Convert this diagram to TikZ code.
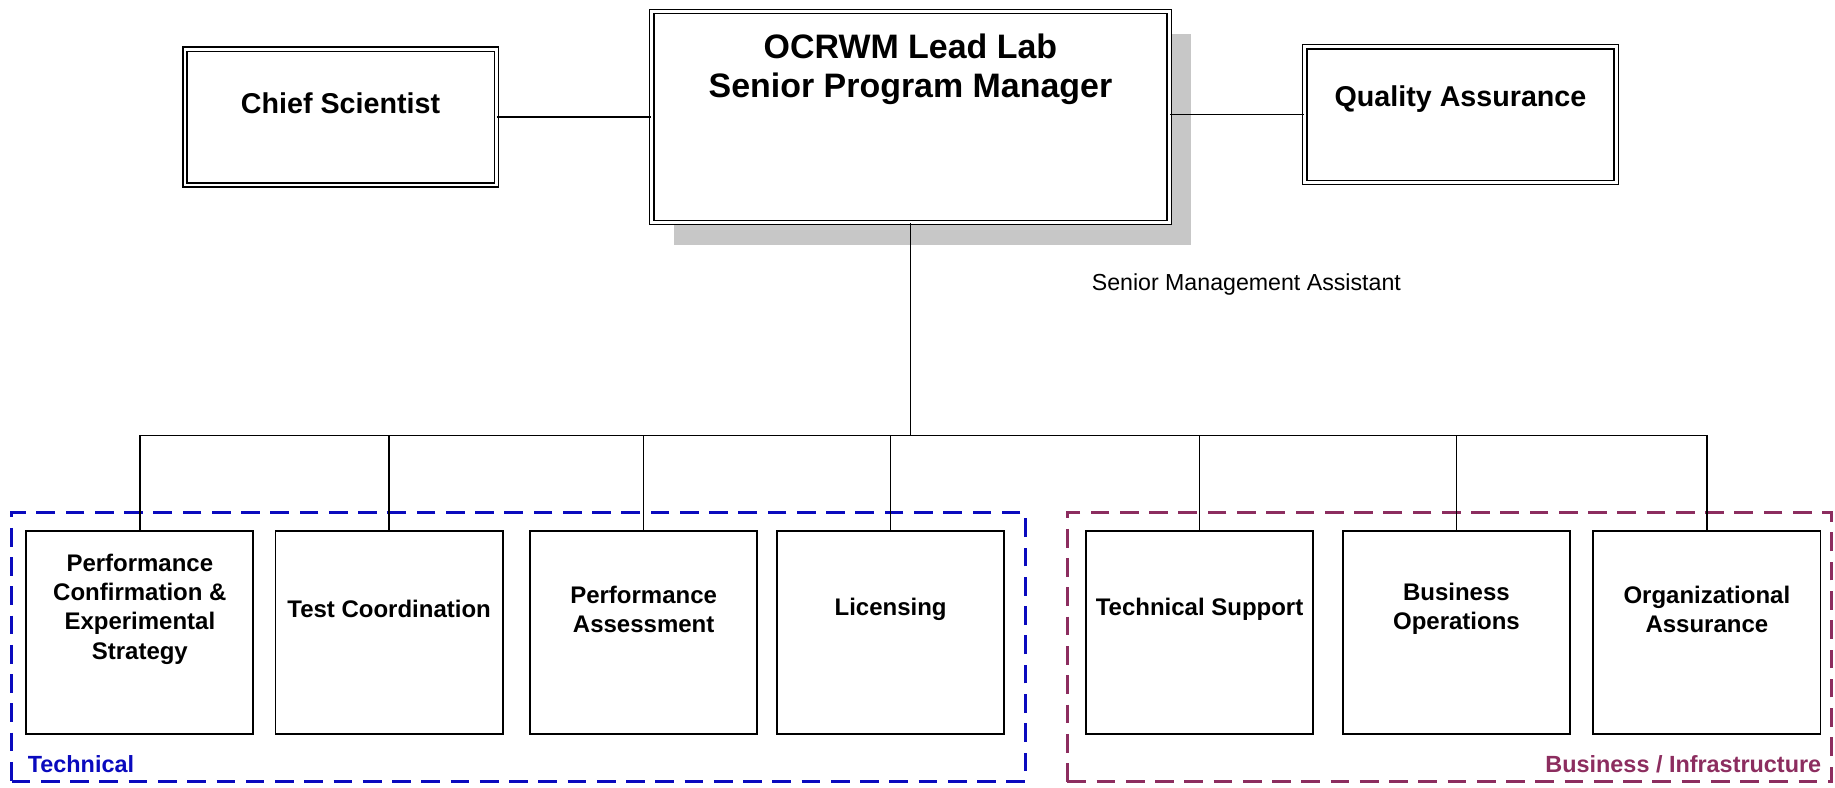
\documentclass[tikz,border=0pt]{standalone}
\usepackage{fontspec}
\setmainfont{Liberation Sans}
\usepackage{tikz}
\usetikzlibrary{positioning,shadows}
\definecolor{techblue}{RGB}{10,10,190}
\definecolor{bizplum}{RGB}{140,45,95}
\tikzset{
x=1pt, y=-1pt, % laid out in pixels of the page, y grows downwards
every node/.style={inner sep=0pt},
dblbox/.style={draw, double, line width=1.1pt, double distance=2.4pt, fill=white}, % offices on top
topname/.style={font=\fontsize{24.5pt}{28pt}\selectfont\bfseries},
leadname/.style={font=\fontsize{29pt}{33pt}\selectfont\bfseries, align=center},
unitbox/.style={draw, line width=1.5pt, fill=white, minimum width=194pt, minimum height=174pt}, % the seven units
unitname/.style={font=\fontsize{20.5pt}{25pt}\selectfont\bfseries, align=center},
link/.style={line width=1.3pt},
groupframe/.style={draw, line width=2.8pt, dash pattern=on 16pt off 9pt},
grouplabel/.style={font=\fontsize{20pt}{24pt}\selectfont\bfseries}
}
\begin{document}
\begin{tikzpicture}
    \useasboundingbox (0,0) rectangle (1568,672.5);
    % the two groups
    \node[groupframe, draw=techblue, minimum width=866pt, minimum height=230pt] (techframe) at (443,553) {};
    \node[grouplabel, text=techblue, anchor=base west] (techlabel) at ([xshift=15pt, yshift=9pt]techframe.south west) {Technical};
    \node[groupframe, draw=bizplum, minimum width=653pt, minimum height=230pt] (bizframe) at (1238.5,553) {};
    \node[grouplabel, text=bizplum, anchor=base east] (bizlabel) at ([xshift=-10pt, yshift=9pt]bizframe.south east) {Business / Infrastructure};
    % top row
    \node[dblbox, minimum width=266pt, minimum height=116pt] (chief) at (291,100) {};
    \node[topname] (chief-t) at ([yshift=12pt]chief.center) {Chief Scientist};
    \node[dblbox, drop shadow={shadow xshift=19pt, shadow yshift=-19pt, fill=black!22, opacity=1}, minimum width=442pt, minimum height=180pt] (lead) at (778,100) {};
    \node[leadname] (lead-t) at ([yshift=41pt]lead.center) {OCRWM Lead Lab\\Senior Program Manager};
    \node[dblbox, minimum width=266pt, minimum height=116pt] (qa) at (1248,98) {};
    \node[topname] (qa-t) at ([yshift=13pt]qa.center) {Quality Assurance};
    \draw[link] (chief.east) -- (lead.west |- chief.east);
    \draw[link] (lead.east |- qa.west) -- (qa.west);
    \node[font=\fontsize{19.8pt}{24pt}\selectfont] (sma) at (1065,243) {Senior Management Assistant};
    % trunk and bus
    \coordinate (bus) at (778,372);
    \draw[link] (lead.south) -- (bus);
    \foreach \n/\x/\t in {pc/119.5/{Performance\\Confirmation \&\\Experimental\\Strategy},
                          tc/332.5/{Test Coordination},
                          pa/550/{Performance\\Assessment},
                          lic/761/{Licensing},
                          ts/1025/{Technical Support},
                          bo/1244.5/{Business\\Operations},
                          oa/1458.5/{Organizational\\Assurance}}{
        \node[unitbox] (\n) at (\x,540.5) {};
        \node[unitname] (\n-t) at ([yshift=20pt]\n.center) {\t};
        \draw[link] (\n.north) -- (\n.north |- bus);
    }
    \draw[link] (pc.north |- bus) -- (oa.north |- bus);
\end{tikzpicture}
\end{document}
